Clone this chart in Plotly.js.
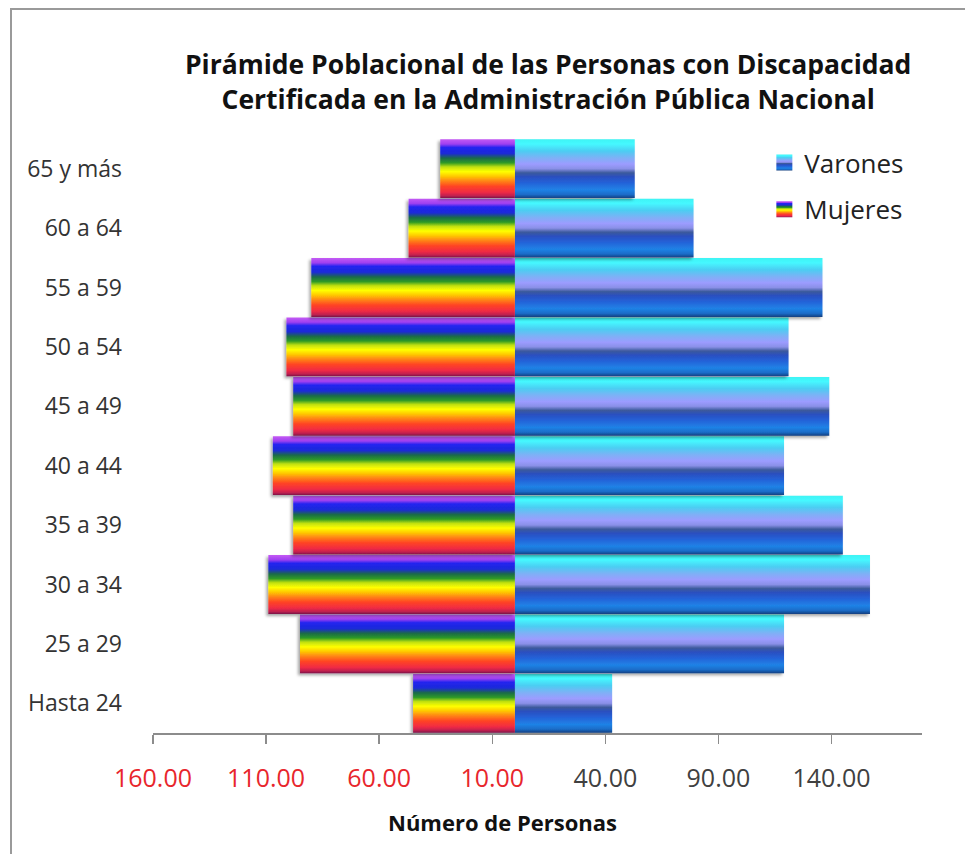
<!DOCTYPE html>
<html>
<head>
<meta charset="utf-8">
<script src="https://cdn.plot.ly/plotly-3.0.1.min.js"></script>
<style>
  html, body { margin: 0; padding: 0; background: #fff; }
  #wrap { position: relative; width: 965px; height: 854px; overflow: hidden; }
  #chart { position: absolute; left: 0; top: 0; width: 965px; height: 854px; }
  #frame { position: absolute; left: 10px; top: 8px; width: 980px; height: 900px;
           border-left: 2px solid #9a9a9a; border-top: 2px solid #9a9a9a; pointer-events: none; }
</style>
</head>
<body>
<div id="wrap">
  <div id="chart"></div>
  <div id="frame"></div>
</div>
<script>
// ---- Data ----
var categories = ['Hasta 24', '25 a 29', '30 a 34', '35 a 39', '40 a 44',
                  '45 a 49', '50 a 54', '55 a 59', '60 a 64', '65 y más'];
var varones = [43, 119, 157, 145, 119, 139, 121, 136, 79, 53];
var mujeres = [45, 95, 109, 98, 107, 98, 101, 90, 47, 33];
var tickValues = [-160, -110, -60, -10, 40, 90, 140];
var tickLabels = ['160.00', '110.00', '60.00', '10.00', '40.00', '90.00', '140.00'];
var xTitle = 'Número de Personas';

var mujeresNeg = mujeres.map(function (v) { return -v; });
var tickText = tickValues.map(function (v, i) {
  var col = v < 0 ? '#e8262c' : '#404040';
  return '<span style="color:' + col + '">' + tickLabels[i] + '</span>';
});

var FONT = '"Open Sans", Lato, "DejaVu Sans", sans-serif';

var traces = [
  {
    type: 'bar', orientation: 'h', name: 'Varones',
    y: categories, x: varones,
    marker: { color: '#2a6ad8', line: { width: 0 } },
    legendgroup: 'v', hoverinfo: 'y+x'
  },
  {
    type: 'bar', orientation: 'h', name: 'Mujeres',
    y: categories, x: mujeresNeg,
    marker: { color: '#ff8800', line: { width: 0 } },
    legendgroup: 'm', hoverinfo: 'y+x'
  }
];

var layout = {
  width: 965, height: 854,
  margin: { l: 153, r: 43, t: 139, b: 121 },
  paper_bgcolor: '#ffffff', plot_bgcolor: 'rgba(0,0,0,0)',
  barmode: 'overlay', bargap: 0.01,
  font: { family: FONT, color: '#333333' },
  title: {
    text: 'Pirámide Poblacional de las Personas con Discapacidad<br>Certificada en la Administración Pública Nacional',
    font: { family: FONT, size: 26.5, color: '#111111', weight: 'bold' },
    x: 0.568, xanchor: 'center', xref: 'container',
    y: 0.913, yanchor: 'top', yref: 'container'
  },
  xaxis: {
    range: [-160, 180], fixedrange: true,
    tickmode: 'array', tickvals: tickValues, ticktext: tickText,
    ticks: 'outside', ticklen: 9, tickwidth: 1.5, tickcolor: '#8c8c8c',
    showline: true, linecolor: '#8c8c8c', linewidth: 1.5,
    showgrid: false, zeroline: false,
    ticklabelstandoff: 13,
    tickfont: { family: FONT, size: 25, color: '#404040' }
  },
  yaxis: {
    type: 'category', fixedrange: true,
    showline: false, showgrid: false, zeroline: false, ticks: '',
    ticklabelstandoff: 30,
    tickfont: { family: FONT, size: 23, color: '#333333' }
  },
  annotations: [{
    text: xTitle, xref: 'paper', yref: 'paper',
    x: 0.455, y: -0.149, xanchor: 'center', yanchor: 'middle',
    showarrow: false,
    font: { family: FONT, size: 22, color: '#111111', weight: 'bold' }
  }],
  showlegend: true,
  legend: {
    x: 0.795, y: 1.0, xanchor: 'left', yanchor: 'top',
    traceorder: 'grouped', tracegroupgap: 10,
    bgcolor: 'rgba(0,0,0,0)',
    font: { family: FONT, size: 26, color: '#222222' }
  }
};

function ensureDefs(svg) {
  var ns = 'http://www.w3.org/2000/svg';
  if (svg.querySelector('#gradV')) return;
  var defs = document.createElementNS(ns, 'defs');
  function grad(id, stops) {
    var g = document.createElementNS(ns, 'linearGradient');
    g.setAttribute('id', id);
    g.setAttribute('x1', '0'); g.setAttribute('y1', '0');
    g.setAttribute('x2', '0'); g.setAttribute('y2', '1');
    stops.forEach(function (s) {
      var st = document.createElementNS(ns, 'stop');
      st.setAttribute('offset', s[0]);
      st.setAttribute('stop-color', s[1]);
      g.appendChild(st);
    });
    defs.appendChild(g);
  }
  grad('gradV', [
    [0, '#3ff4f4'], [0.08, '#45f8ff'], [0.2, '#4ccdf2'], [0.32, '#7fb0f6'],
    [0.42, '#9c9cff'], [0.5, '#8a90e8'], [0.57, '#3c5a9c'], [0.64, '#2a4fc0'],
    [0.74, '#2462d8'], [0.86, '#1f82e6'], [0.94, '#1a6cc8'], [1, '#123f80']
  ]);
  grad('gradM', [
    [0, '#c45af4'], [0.08, '#a040f0'], [0.14, '#2424f0'], [0.24, '#1a2ad8'],
    [0.32, '#1b6a4a'], [0.4, '#2e9a26'], [0.47, '#c0e010'], [0.55, '#ffff00'],
    [0.63, '#ffc800'], [0.7, '#ff8c14'], [0.8, '#ff4424'], [0.9, '#f02a44'],
    [0.96, '#c02050'], [1, '#7a1448']
  ]);
  var f = document.createElementNS(ns, 'filter');
  f.setAttribute('id', 'barShadow');
  f.setAttribute('x', '-10%'); f.setAttribute('y', '-10%');
  f.setAttribute('width', '120%'); f.setAttribute('height', '130%');
  var ds = document.createElementNS(ns, 'feDropShadow');
  ds.setAttribute('dx', '-2'); ds.setAttribute('dy', '2');
  ds.setAttribute('stdDeviation', '1.5');
  ds.setAttribute('flood-color', '#000'); ds.setAttribute('flood-opacity', '0.35');
  f.appendChild(ds);
  defs.appendChild(f);
  svg.insertBefore(defs, svg.firstChild);
}

function styleBars() {
  var gd = document.getElementById('chart');
  var svg = gd.querySelector('svg.main-svg');
  if (!svg) return;
  ensureDefs(svg);
  var fills = ['url(#gradV)', 'url(#gradM)'];
  var tr = gd.querySelectorAll('.barlayer .trace');
  tr.forEach(function (t, i) {
    t.querySelectorAll('path').forEach(function (p) {
      p.style.fill = fills[i];
      p.style.fillOpacity = 1;
      p.setAttribute('filter', 'url(#barShadow)');
    });
  });
  var lt = gd.querySelectorAll('.legend .traces');
  lt.forEach(function (t, i) {
    t.querySelectorAll('.legendpoints path').forEach(function (p) {
      p.style.fill = fills[i];
      p.setAttribute('d', 'M8,8H-8V-8H8Z');
    });
  });
}

Plotly.newPlot('chart', traces, layout, { displayModeBar: false, staticPlot: true }).then(function (gd) {
  styleBars();
  gd.on('plotly_afterplot', styleBars);
});
</script>
</body>
</html>
